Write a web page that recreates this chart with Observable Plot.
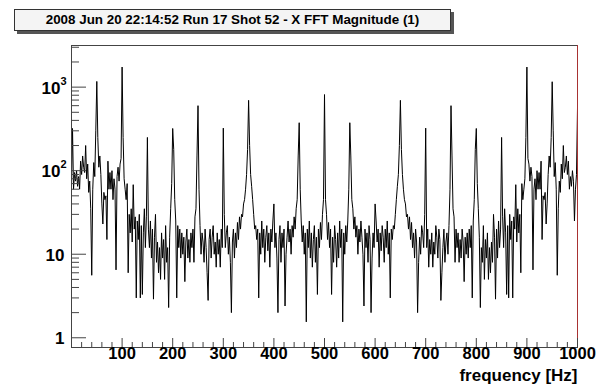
<!DOCTYPE html>
<html><head><meta charset="utf-8">
<script src="https://cdn.jsdelivr.net/npm/d3@7"></script>
<script src="https://cdn.jsdelivr.net/npm/@observablehq/plot@0.6"></script>
<style>
html,body{margin:0;padding:0;background:#fff;}
#wrap{position:relative;width:605px;height:387px;overflow:hidden;font-family:"Liberation Sans",Arial,Helvetica,sans-serif;}
#chart{position:absolute;left:0;top:0;}
#title{position:absolute;left:14px;top:9px;width:437px;height:22px;box-sizing:border-box;border:1px solid #333;background:#f4f4f4;box-shadow:3px 3px 0 #555;font-weight:bold;font-size:13.4px;text-align:center;line-height:20px;color:#000;z-index:2;white-space:nowrap;}
</style></head><body>
<div id="wrap"><div id="chart"></div><div id="title">2008 Jun 20 22:14:52 Run 17 Shot 52 - X FFT Magnitude (1)</div></div>
<script>
// FFT magnitude, 2 Hz bins, grouped by 100 Hz band
const binHz = 2;
const bandStartHz = [0, 100, 200, 300, 400, 502, 602, 702, 802, 902];
const band000 = [70,320,60,95,75,100,65,85,60,130,90,150,110,95,200,80,120,55,75,35,5.6,60,125,85,300,1170,250,110,150,90,40,23,55,45,50,15,130,60,95,60,100,45,80,60,6.5,85,110,75,120,140];
const band100 = [1740,250,80,60,45,70,6,30,18,35,14,68,20,28,3,25,15,30,3,22,3.3,18,35,12,28,250,20,12,25,9,20,2.9,16,30,8,14,6,12,5,18,9,15,5,22,8,12,2.3,16,35,70];
const band200 = [320,180,45,25,3,22,12,20,9,18,10,16,4.7,14,20,9,15,8,18,12,20,8,28,35,150,600,60,22,10,18,14,8,20,12,6,2.8,15,20,9,16,22,10,14,7,18,10,15,7,20,12];
const band300 = [323,30,12,18,22,10,16,8,2,14,20,9,18,12,24,15,28,20,30,28,40,45,60,90,180,695,200,90,65,45,30,20,22,15,20,3,18,10,25,12,20,8,16,22,11,18,7,20,14,25];
const band400 = [40,12,18,9,2,15,22,8,18,12,20,2.4,10,16,25,14,20,10,22,16,28,20,35,45,150,375,60,25,14,22,10,18,1.55,20,12,25,9,18,7,15,22,8,16,3.3,20,12,24,15,30,45,815];
const band500 = [45,30,15,24,12,20,3.3,16,8,22,15,7,18,9,25,12,20,1.55,18,10,22,14,25,60,375,150,45,35,20,28,16,22,10,20,14,25,16,10,2.4,20,12,18,8,22,15,2,9,18,12,40];
const band600 = [25,14,20,7,18,11,22,16,8,20,12,25,10,18,3,20,15,22,20,30,45,65,90,200,695,180,90,60,45,40,28,30,20,28,15,24,12,18,9,20,14,2,8,16,10,22,18,12,30,323];
const band700 = [12,20,7,15,10,18,7,14,10,22,16,9,20,15,2.8,6,12,20,8,14,18,10,22,60,600,150,35,28,8,20,12,18,8,15,9,20,14,4.7,16,10,18,9,20,12,22,3,25,45,180,320];
const band800 = [70,35,16,2.3,12,8,22,5,15,9,18,5,12,6,14,8,30,16,2.9,20,9,25,12,20,250,28,12,35,18,3.3,22,3,30,15,25,3,28,20,68,14,35,18,30,6,70,45,60,80,250,1740];
const band900 = [140,120,75,110,85,6.5,60,80,45,100,60,95,60,130,15,50,45,55,23,40,90,150,110,250,1160,300,85,125,60,5.6,35,75,55,120,80,200,95,110,150,90,130,60,85,65,100,75,25,60,90,560];

const xDomain = [0, 1000];
const yDomain = [0.765, 3150];
const xMajorTicks = [100,200,300,400,500,600,700,800,900,1000];
const xMinorTicks = [20,40,60,80,120,140,160,180,220,240,260,280,320,340,360,380,420,440,460,480,520,540,560,580,620,640,660,680,720,740,760,780,820,840,860,880,920,940,960,980];
const yMajorTicks = [1,10,100,1000];
const yPlainTicks = [1,10];          // labels "1", "10"
const yPlainLabels = ["1","10"];
const yPowerTicks = [100,1000];      // labels 10², 10³
const yPowerExponents = ["2","3"];
const yMinorTicks = [2,3,4,5,6,7,8,9,20,30,40,50,60,70,80,90,200,300,400,500,600,700,800,900,2000,3000];
const xTitle = "frequency [Hz]";

const bands = [band000, band100, band200, band300, band400, band500, band600, band700, band800, band900];
const data = bands.flatMap((vals, i) => vals.map((v, j) => ({f: bandStartHz[i] + j * binHz, v})));

const W = 605, H = 387, mL = 71, mR = 28, mT = 45, mB = 40;
const fw = W - mL - mR, fh = H - mT - mB;
const font = "'Liberation Sans', Arial, Helvetica, sans-serif";
const lab = {fontSize: 17, fontWeight: "bold", fill: "#000"};

const chart = Plot.plot({
  width: W, height: H,
  marginLeft: mL, marginRight: mR, marginTop: mT, marginBottom: mB,
  style: {fontFamily: font, background: "#fff", color: "#000"},
  x: {domain: xDomain, axis: null},
  y: {type: "log", domain: yDomain, axis: null},
  marks: [
    Plot.line(data, {x: "f", y: "v", stroke: "#000", strokeWidth: 1, clip: true}),
    Plot.frame({stroke: "#444", strokeWidth: 1}),
    Plot.ruleX([xDomain[1]], {stroke: "#a83232", strokeWidth: 1}),
    Plot.tickY(yMajorTicks, {y: d => d, stroke: "#444", insetRight: fw - 15}),
    Plot.tickY(yMinorTicks, {y: d => d, stroke: "#444", insetRight: fw - 8}),
    Plot.tickX(xMajorTicks, {x: d => d, stroke: "#444", insetTop: fh - 9}),
    Plot.tickX(xMinorTicks, {x: d => d, stroke: "#444", insetTop: fh - 5}),
    Plot.text(yPlainTicks, {y: d => d, text: (d, i) => yPlainLabels[i], frameAnchor: "left", textAnchor: "end", dx: -7, dy: 1, ...lab}),
    Plot.text(yPowerTicks, {y: d => d, text: () => "10", frameAnchor: "left", textAnchor: "end", dx: -11, dy: 1, ...lab}),
    Plot.text(yPowerTicks, {y: d => d, text: (d, i) => yPowerExponents[i], frameAnchor: "left", textAnchor: "end", dx: -5, dy: -6, fontSize: 11, fontWeight: "bold", fill: "#000"}),
    Plot.text(xMajorTicks, {x: d => d, text: d => String(d), frameAnchor: "bottom", dy: 11, fontSize: 16.5, fontWeight: "bold", fill: "#000"}),
    Plot.text([xTitle], {frameAnchor: "bottom-right", textAnchor: "end", dy: 33.5, ...lab})
  ]
});
document.getElementById("chart").appendChild(chart);
</script>
</body></html>
